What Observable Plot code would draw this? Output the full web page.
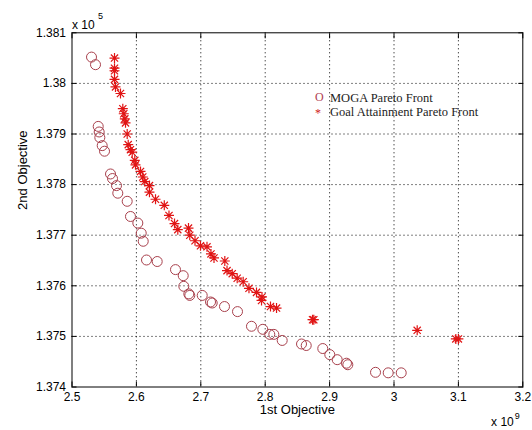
<!DOCTYPE html>
<html><head><meta charset="utf-8">
<script src="https://cdn.jsdelivr.net/npm/d3@7"></script>
<script src="https://cdn.jsdelivr.net/npm/@observablehq/plot@0.6"></script>
<style>body{margin:0;background:#fff;}</style>
</head><body><div id="chart"></div>
<script>
const seriesNames = ["MOGA Pareto Front", "Goal Attainment Pareto Front"];
const mogaX = [2.5303,2.5365,2.5407,2.5422,2.5432,2.5469,2.5505,2.5598,2.5629,2.5691,2.5711,2.5857,2.5908,2.6022,2.6075,2.6106,2.6157,2.6323,2.6607,2.6727,2.6736,2.6814,2.6829,2.7022,2.7151,2.7177,2.7368,2.757,2.7787,2.7963,2.8071,2.8134,2.8264,2.8564,2.8637,2.8894,2.9003,2.9118,2.9262,2.9283,2.9713,2.991,3.0112];
const mogaY = [1.38052,1.38037,1.37915,1.37904,1.37893,1.37877,1.37866,1.37821,1.37812,1.37798,1.37783,1.37767,1.37737,1.37724,1.37704,1.37688,1.37651,1.37648,1.37632,1.3762,1.37599,1.37584,1.37581,1.37581,1.37568,1.37566,1.37559,1.37549,1.3752,1.37514,1.37504,1.37504,1.37492,1.37485,1.37482,1.37476,1.37464,1.37454,1.37447,1.37444,1.37429,1.37428,1.37428];
const gaX = [2.566,2.566,2.566,2.566,2.5675,2.5753,2.5789,2.5804,2.582,2.5831,2.5857,2.5873,2.5908,2.5935,2.5975,2.5986,2.6064,2.6099,2.613,2.6203,2.6203,2.6297,2.6433,2.6506,2.6592,2.6643,2.6809,2.6829,2.691,2.6995,2.7096,2.7158,2.7205,2.7373,2.7407,2.7488,2.7565,2.7658,2.7748,2.7865,2.795,2.7943,2.8082,2.8176,2.8735,2.8755,3.036,3.096,3.1];
const gaY = [1.3805,1.3803,1.38025,1.38008,1.37993,1.3798,1.3795,1.3794,1.3793,1.37922,1.379,1.37879,1.37869,1.37864,1.37848,1.37839,1.37826,1.37815,1.37806,1.37798,1.37785,1.37771,1.37759,1.37739,1.37723,1.37711,1.37714,1.377,1.37689,1.37679,1.37677,1.37663,1.37655,1.37649,1.3763,1.37624,1.37615,1.37608,1.37595,1.37587,1.37578,1.37571,1.37559,1.37556,1.37533,1.37533,1.37512,1.37495,1.37495];
const xTicks = [2.5,2.6,2.7,2.8,2.9,3,3.1,3.2];
const xTickLabels = ["2.5","2.6","2.7","2.8","2.9","3","3.1","3.2"];
const yTicks = [1.374,1.375,1.376,1.377,1.378,1.379,1.38,1.381];
const yTickLabels = ["1.374","1.375","1.376","1.377","1.378","1.379","1.38","1.381"];
const xLabel = "1st Objective";
const yLabel = "2nd Objective";
const xExp = "9", yExp = "5";

const moga = mogaX.map((x, i) => ({x, y: mogaY[i]}));
const ga = gaX.map((x, i) => ({x, y: gaY[i]}));

const asterisk = {
  draw(ctx, size) {
    const r = Math.sqrt(size / Math.PI), d = r * 0.72;
    ctx.moveTo(-r, 0); ctx.lineTo(r, 0);
    ctx.moveTo(0, -r); ctx.lineTo(0, r);
    ctx.moveTo(-d, -d); ctx.lineTo(d, d);
    ctx.moveTo(-d, d); ctx.lineTo(d, -d);
  }
};

const sans = "Liberation Sans, Arial, sans-serif";
const serif = "Liberation Serif, Times New Roman, serif";
const fx = d => xTickLabels[xTicks.indexOf(d)];
const fy = d => yTickLabels[yTicks.indexOf(d)];

const chart = Plot.plot({
  width: 532, height: 430,
  marginLeft: 71.5, marginRight: 9.7, marginTop: 32.3, marginBottom: 43.5,
  style: {fontFamily: sans, fontSize: "12px", color: "#000", background: "#fff"},
  x: {domain: [2.5, 3.2], axis: null},
  y: {domain: [1.374, 1.381], axis: null},
  marks: [
    Plot.ruleX(xTicks.slice(1, -1), {stroke: "#000", strokeDasharray: "1,3", strokeWidth: 1}),
    Plot.ruleY(yTicks.slice(1, -1), {stroke: "#000", strokeDasharray: "1,3", strokeWidth: 1}),
    Plot.axisX(xTicks, {anchor: "bottom", tickSize: 0, tickPadding: 5, tickFormat: fx, fontSize: 12, label: null}),
    Plot.axisX(xTicks, {anchor: "bottom", tickSize: 5, dy: -5, tickFormat: () => "", label: null}),
    Plot.axisX(xTicks, {anchor: "top", tickSize: 5, dy: 5, tickFormat: () => "", label: null}),
    Plot.axisY(yTicks, {anchor: "left", tickSize: 0, tickPadding: 6, tickFormat: fy, fontSize: 12, label: null}),
    Plot.axisY(yTicks, {anchor: "left", tickSize: 5, dx: 5, tickFormat: () => "", label: null}),
    Plot.axisY(yTicks, {anchor: "right", tickSize: 5, dx: -5, tickFormat: () => "", label: null}),
    Plot.frame({stroke: "#000", strokeWidth: 1}),
    Plot.dot(moga, {x: "x", y: "y", r: 5, stroke: "#a8404c", fill: "none", strokeWidth: 1}),
    Plot.dot(ga, {x: "x", y: "y", r: 5, symbol: asterisk, stroke: "#e01414", fill: "none", strokeWidth: 1.2}),
    // legend
    Plot.text(["O"], {frameAnchor: "top-left", dx: 243, dy: 60, text: d => d, fill: "#b04050", fontFamily: serif, fontSize: 12}),
    Plot.text(["*"], {frameAnchor: "top-left", dx: 243, dy: 76, text: d => d, fill: "#d02020", fontFamily: serif, fontSize: 12}),
    Plot.text([seriesNames[0]], {frameAnchor: "top-left", dx: 258, dy: 60, text: d => d, textAnchor: "start", fill: "#222", fontFamily: serif, fontSize: 12.5}),
    Plot.text([seriesNames[1]], {frameAnchor: "top-left", dx: 258, dy: 74, text: d => d, textAnchor: "start", fill: "#222", fontFamily: serif, fontSize: 12.5}),
    // axis labels
    Plot.text([xLabel], {frameAnchor: "bottom", dy: 27, text: d => d, fontSize: 13, fill: "#000"}),
    Plot.text([yLabel], {frameAnchor: "left", dx: -49, rotate: -90, text: d => d, fontSize: 13, fill: "#000"}),
    // exponents
    Plot.text(["x 10"], {frameAnchor: "top-left", dx: 0, dy: -12, textAnchor: "start", text: d => d, fontSize: 12}),
    Plot.text([yExp], {frameAnchor: "top-left", dx: 26, dy: -20, textAnchor: "start", text: d => d, fontSize: 9}),
    Plot.text(["x 10"], {frameAnchor: "bottom-right", dx: -9, dy: 39, textAnchor: "end", text: d => d, fontSize: 12}),
    Plot.text([xExp], {frameAnchor: "bottom-right", dx: -8, dy: 32, textAnchor: "start", text: d => d, fontSize: 9})
  ]
});
document.getElementById("chart").appendChild(chart);
</script>
</body></html>
